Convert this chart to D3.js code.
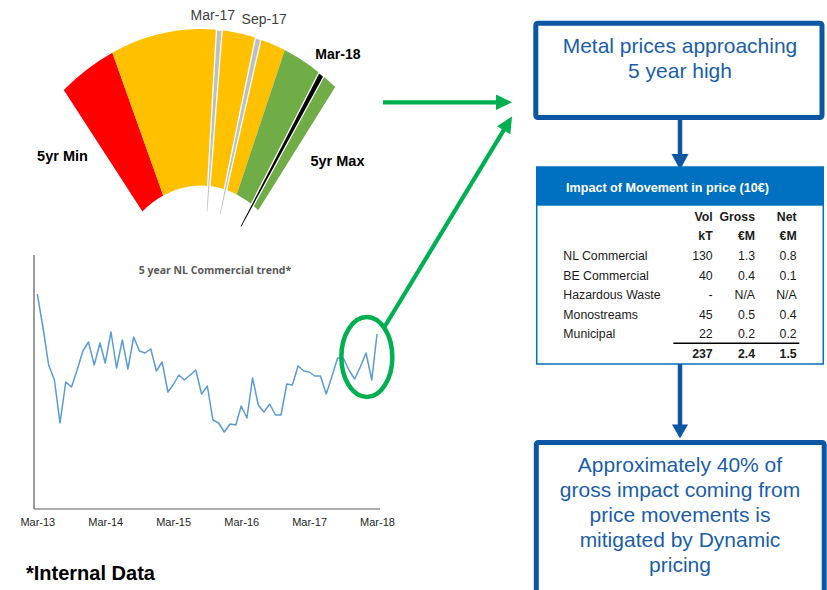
<!DOCTYPE html>
<html><head><meta charset="utf-8">
<script src="https://cdn.jsdelivr.net/npm/d3@7"></script>
<style>
html,body{margin:0;padding:0;background:#fff;}
svg{display:block;font-family:"Liberation Sans",Arial,sans-serif;}
</style></head><body>
<svg id="chart" width="827" height="590"></svg>
<script>
// NL Commercial metal price index, one value per month from Mar-13 to Mar-18
const trendStart = "2013-03";
const trendValues = [215,181,144,129,86,127,122,139,158,167,144,166,146,177,141,169,140,172,158,156,
  160,138,147,117,124,134,129,134,139,115,123,89,86,77,85,84,103,91,131,104,
  97,105,94,94,125,124,143,138,137,133,133,115,132,151,151,139,130,142,156,129,175];
const trendTicks = ["2013-03","2014-03","2015-03","2016-03","2017-03","2018-03"];

// Gauge scale: 0 = 5yr min, 100 = 5yr max
const gaugeBandEdges = [0, 19.5, 80, 100];
const gaugeBandColors = ["#FF0000", "#FFC000", "#70AD47"];
const gaugeMarkLabels = ["Mar-17", "Sep-17", "Mar-18"];
const gaugeMarkValues = [56.9, 70.4, 94.2];

// Impact table
const tableCategories = ["NL Commercial", "BE Commercial", "Hazardous Waste", "Monostreams", "Municipal"];
const tableVolKt = [130, 40, null, 45, 22];
const tableGrossEm = [1.3, 0.4, null, 0.5, 0.2];
const tableNetEm = [0.8, 0.1, null, 0.4, 0.2];

const svg = d3.select("#chart");
const boxBlue = "#0B57A4";
const textBlue = "#1A5EA9";
const green = "#00B050";

// ---------- gauge ----------
const gx = 201, gy = 302, gk = 1.252, R = 218, r0 = 93;
const rad = Math.PI / 180;
const ang = d3.scaleLinear().domain([0, 100]).range([-39 * rad, 38 * rad]);
const arc = d3.arc();
const gauge = svg.append("g").attr("transform", `translate(${gx},${gy}) scale(1,${gk})`);

gauge.selectAll("path.band")
  .data(d3.pairs(gaugeBandEdges))
  .join("path")
  .attr("class", "band")
  .attr("d", d => arc({innerRadius: r0, outerRadius: R, startAngle: ang(d[0]), endAngle: ang(d[1])}))
  .attr("fill", (d, i) => gaugeBandColors[i]);

const needleHalf = 0.75 * rad;
gauge.selectAll("path.needle")
  .data(gaugeMarkValues)
  .join("path")
  .attr("class", "needle")
  .attr("d", v => arc({innerRadius: 72, outerRadius: R, startAngle: ang(v) - needleHalf, endAngle: ang(v) + needleHalf}))
  .attr("fill", (v, i) => i === gaugeMarkValues.length - 1 ? "#000" : "#BFBFBF")
  .attr("stroke", "#fff")
  .attr("stroke-width", 1.3)
  .attr("vector-effect", "non-scaling-stroke");

// needle labels, anchored to the needle tips
const labelOffsets = [[-6.5, -10], [6, -14.5], [16.5, -15]];
svg.selectAll("text.mark")
  .data(gaugeMarkValues)
  .join("text")
  .attr("class", "mark")
  .attr("x", (v, i) => gx + R * Math.sin(ang(v)) + labelOffsets[i][0])
  .attr("y", (v, i) => gy - gk * R * Math.cos(ang(v)) + labelOffsets[i][1])
  .attr("text-anchor", "middle")
  .attr("font-size", 14)
  .attr("font-weight", (v, i) => i === gaugeMarkValues.length - 1 ? "bold" : "normal")
  .attr("fill", (v, i) => i === gaugeMarkValues.length - 1 ? "#000" : "#404040")
  .text((v, i) => gaugeMarkLabels[i]);

svg.append("text").attr("x", gx - 138.5).attr("y", gy - 141)
  .attr("text-anchor", "middle").attr("font-size", 14.5).attr("font-weight", "bold")
  .text("5yr Min");
svg.append("text").attr("x", gx + 136.5).attr("y", gy - 136)
  .attr("text-anchor", "middle").attr("font-size", 14.5).attr("font-weight", "bold")
  .text("5yr Max");

// ---------- trend line ----------
const parse = d3.timeParse("%Y-%m");
const t0 = parse(trendStart);
const trend = trendValues.map((v, i) => ({date: d3.timeMonth.offset(t0, i), value: v}));
const x = d3.scaleTime().domain([parse(trendTicks[0]), parse(trendTicks[trendTicks.length - 1])]).range([37.3, 377]);
const y = d3.scaleLinear().domain([0, 254]).range([509, 255]);

const frame = svg.append("g").attr("stroke", "#595959").attr("stroke-width", 1.2);
frame.append("line").attr("x1", 34).attr("x2", 34).attr("y1", y.range()[1]).attr("y2", y.range()[0]);
frame.append("line").attr("x1", 34).attr("x2", 380).attr("y1", y.range()[0]).attr("y2", y.range()[0]);

svg.append("path")
  .datum(trend)
  .attr("fill", "none")
  .attr("stroke", "#5B9BD5")
  .attr("stroke-width", 1.5)
  .attr("stroke-linejoin", "round")
  .attr("d", d3.line().x(d => x(d.date)).y(d => y(d.value)));

const xAxis = svg.append("g")
  .attr("transform", `translate(0,${y.range()[0]})`)
  .call(d3.axisBottom(x).tickValues(trendTicks.map(parse)).tickFormat(d3.timeFormat("%b-%y")).tickSize(0).tickPadding(8.7));
xAxis.select(".domain").remove();
xAxis.selectAll("text").attr("font-size", 11).attr("fill", "#262626").attr("font-family", "Liberation Sans, Arial, sans-serif");

svg.append("text").attr("x", 215).attr("y", 273.5)
  .attr("text-anchor", "middle").attr("font-family", "'Open Sans', sans-serif")
  .attr("font-size", 10.5).attr("font-weight", 700).attr("fill", "#595959")
  .text("5 year NL Commercial trend*");

svg.append("text").attr("x", 26).attr("y", 580)
  .attr("font-size", 20).attr("font-weight", "bold").attr("fill", "#000")
  .text("*Internal Data");

// highlight around the latest months
const last = trend.slice(-5);
const ex = d3.mean(d3.extent(last, d => x(d.date))) + 1;
const ey = d3.mean(d3.extent(last, d => y(d.value)));
svg.append("ellipse").attr("cx", ex).attr("cy", ey).attr("rx", 25.5).attr("ry", 40)
  .attr("fill", "none").attr("stroke", green).attr("stroke-width", 4.5);

// ---------- arrows ----------
function arrow(x1, y1, x2, y2, color, width, headLen, headHalf) {
  const a = Math.atan2(y2 - y1, x2 - x1);
  const bx = x2 - headLen * Math.cos(a), by = y2 - headLen * Math.sin(a);
  svg.append("line").attr("x1", x1).attr("y1", y1).attr("x2", bx + Math.cos(a)).attr("y2", by + Math.sin(a))
    .attr("stroke", color).attr("stroke-width", width);
  const nx = -Math.sin(a) * headHalf, ny = Math.cos(a) * headHalf;
  svg.append("path")
    .attr("d", `M${x2},${y2}L${bx + nx},${by + ny}L${bx - nx},${by - ny}Z`)
    .attr("fill", color);
}
arrow(383, 102.3, 512, 102.3, green, 4.2, 16, 7.8);
arrow(ex + 17, ey - 29, 512, 116.5, green, 4.2, 16, 7.8);

// ---------- right column ----------
const colX = 680;
svg.append("rect").attr("x", 535.8).attr("y", 23.3).attr("width", 286.2).attr("height", 94.2)
  .attr("rx", 2).attr("fill", "#fff").attr("stroke", boxBlue).attr("stroke-width", 5);
svg.append("text").attr("x", colX).attr("y", 52.5).attr("text-anchor", "middle")
  .attr("font-size", 21).attr("fill", textBlue)
  .selectAll("tspan").data(["Metal prices approaching", "5 year high"]).join("tspan")
  .attr("x", colX).attr("dy", (d, i) => i ? 25.8 : 0).text(d => d);

arrow(colX, 120, colX, 170, boxBlue, 4.5, 16, 8.5);

// table panel
const tb = {x: 536.7, y: 167, w: 286.6, h: 197};
svg.append("rect").attr("x", tb.x).attr("y", tb.y).attr("width", tb.w).attr("height", tb.h)
  .attr("fill", "#fff").attr("stroke", "#0070C0").attr("stroke-width", 1.5);
svg.append("rect").attr("x", tb.x).attr("y", tb.y).attr("width", tb.w).attr("height", 38.7)
  .attr("fill", "#0070C0");
svg.append("text").attr("x", 566).attr("y", 191.5).attr("font-size", 12.6).attr("font-weight", "bold")
  .attr("fill", "#fff").text("Impact of Movement in price (10€)");

const colRight = [712.7, 755, 796.7];
const headers = [["Vol", "kT"], ["Gross", "€M"], ["Net", "€M"]];
const tbl = svg.append("g").attr("font-size", 12.3).attr("fill", "#1a1a1a");
headers.forEach((h, c) => {
  h.forEach((t, r) => {
    tbl.append("text").attr("x", colRight[c]).attr("y", 221 + r * 19.3)
      .attr("text-anchor", "end").attr("font-weight", "bold").text(t);
  });
});
const rowY = d3.scalePoint().domain(tableCategories).range([260, 338.3]);
const fmtVol = v => v == null ? "-" : d3.format("d")(v);
const fmtEm = v => v == null ? "N/A" : d3.format(".1f")(v);
const columns = [[tableVolKt, fmtVol], [tableGrossEm, fmtEm], [tableNetEm, fmtEm]];
tbl.selectAll("text.cat").data(tableCategories).join("text").attr("class", "cat")
  .attr("x", 563.3).attr("y", d => rowY(d)).text(d => d);
columns.forEach(([vals, fmt], c) => {
  tbl.selectAll(`text.c${c}`).data(vals).join("text").attr("class", `c${c}`)
    .attr("x", colRight[c]).attr("y", (v, i) => rowY(tableCategories[i]))
    .attr("text-anchor", "end").text(fmt);
});
svg.append("line").attr("x1", 673.3).attr("x2", 799.3).attr("y1", 343.3).attr("y2", 343.3)
  .attr("stroke", "#000").attr("stroke-width", 1.5);
columns.forEach(([vals, fmt], c) => {
  tbl.append("text").attr("x", colRight[c]).attr("y", 358.3).attr("text-anchor", "end")
    .attr("font-weight", "bold").text(c === 0 ? d3.format("d")(d3.sum(vals)) : d3.format(".1f")(d3.sum(vals)));
});

arrow(colX, tb.y + tb.h, colX, 438.5, boxBlue, 4.5, 14, 8);

svg.append("rect").attr("x", 536.3).attr("y", 442.5).attr("width", 287.9).attr("height", 160)
  .attr("rx", 2).attr("fill", "#fff").attr("stroke", boxBlue).attr("stroke-width", 5);
svg.append("text").attr("y", 471.7).attr("text-anchor", "middle")
  .attr("font-size", 21).attr("fill", textBlue)
  .selectAll("tspan")
  .data(["Approximately 40% of", "gross impact coming from", "price movements is", "mitigated by Dynamic", "pricing"])
  .join("tspan").attr("x", colX).attr("dy", (d, i) => i ? 25 : 0).text(d => d);
</script>
</body></html>
